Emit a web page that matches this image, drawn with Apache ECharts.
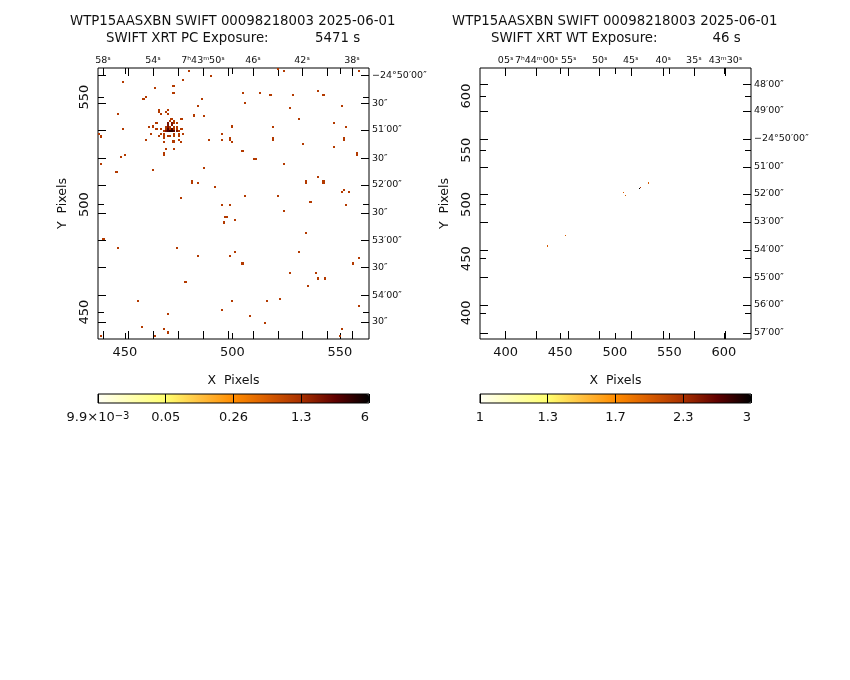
<!DOCTYPE html>
<html>
<head>
<meta charset="utf-8">
<title>WTP15AASXBN SWIFT XRT</title>
<style>
html, body { margin: 0; padding: 0; background: #fff; }
#main { width: 850px; height: 680px; }
</style>
<script src="https://cdn.jsdelivr.net/npm/echarts@6/dist/echarts.min.js"></script>
</head>
<body>
<div id="main"></div>
<script>
// PC image: detector cells grouped by counts per cell
const pcOnes = [
  [480,562],[490,560],[477,558],[449,557],[472.25,555],[472.75,555],[464,554],[472.25,552],[472.75,552],[460,550],[458.25,549],[458.75,549],
  [486,549],[484,546],[466,543.75],[466,543.25],[470,544],[469,543],[467,542],[470,542],[447,542],[482,541.75],[482,541.25],[487,541],
  [471.25,540],[471.75,540],[476.25,540],[476.75,540],[471,539],[473,539],[474,538],[463,536.75],[463,536.25],[464.25,538],[464.75,538],[500,536.75],
  [500,536.25],[461,536],[449,535],[464.25,535],[464.75,535],[467,535],[476.25,535],[476.75,535],[477,533],[462,533],[495,533],[466,532],
  [470,532],[471,532],[475,533],[475,532],[473,533],[473,532],[468,533],[468,532],[468,531],[438,533],[439,531.25],[439,531.75],
  [499,530.75],[499,530.25],[460,530],[489,530],[495,530],[475,530],[476,529],[468,529],[472.25,529.75],[472.75,529.75],[472.25,529.25],[472.75,529.25],
  [500,529],[469,526],[473,526],[468,523.75],[468,523.25],[450,523],[448,522],[469,536],[471,536],[473,536],[474,536],[469,535],
  [471,535],[473,535],[474,535],[468,534],[475,534],[467,533],[473,538],
  [521,563],[524,562],[559,562],[540,553],[505,552],[513,552],[517.25,551],[517.75,551],[528,551],[542.25,551],[542.75,551],[506,547],
  [527,545],[551,546],[531,540],[547,538],[519,536],[553,536],[519,530.75],[519,530.25],[552,530.75],[552,530.25],[533,528],[547,527],
  [504.25,525],[504.75,525],[558,523.75],[558,523.25],[510.25,521],[510.75,521],
  [439,519],[445.75,515],[446.25,515],[463,516],[487,517],[481,510.75],[481,510.25],[484,510],[492,508],[476,503],[495,500],[499,500],
  [496.75,494],[497.25,494],[496,491.75],[496,491.25],[501,493],[439.75,484],[440.25,484],[447,480],[474,480],[501,478],
  [524,519],[540,513],[534,510.75],[534,510.25],[542.25,510.75],[542.75,510.75],[542.25,510.25],[542.75,510.25],[552,507],[551,506],[554,506],[506,504],
  [521,504],[536.25,501],[536.75,501],[553,500],[524,497],[534,487],[531,478],
  [484,476],[499,476],[477.75,464],[478.25,464],[456,455],[500,455],[495,451],[470,449],[458,443],[468,442],[470,440.75],[470,440.25],
  [464,439],[439,439],[559,475],[556,472.75],[556,472.25],[504.25,472.75],[504.75,472.75],[504.25,472.25],[504.75,472.25],[527,468],[539,468],[540,465.75],
  [540,465.25],[543,465.75],[543,465.25],[535,462],[522,456],[516,455],[559,453],[508,448],[515,445],[551,442],[550,439]
];
const pcTwos = [[470,538],[472,538],[470,537],[472,537],[470,536],[469,534],[474,534]];
const pcThrees = [[470,535],[472,535],[470,534],[473,534]];
const pcFours = [[471,534],[472,534]];

// WT image: [x, y, counts]
const wtCells = [[531,520,2],[531,519,2],[524,516,2.3],[523,515,3],[508,511,2],[510,508,2],[455,471,2],[438,462,2],[438,461,2]];

// tick positions in image pixels, WCS ticks
const pcRange = [437.5, 563.5];
const pcXTicks = [450, 500, 550];
const pcYTicks = [450, 500, 550];
const pcRaTicks = [439.8, 451.4, 463.1, 474.7, 486.3, 498, 509.6, 521.2, 532.4, 544, 555.6];
const pcRaLabels = ['58ˢ', '', '54ˢ', '', '7ʰ43ᵐ50ˢ', '', '46ˢ', '', '42ˢ', '', '38ˢ'];
const pcDecTicks = [560.2, 547.2, 534.7, 521.6, 509.1, 496.1, 483.5, 470.9, 457.9, 445.4];
const pcDecLabels = ['−24°50′00″', '30″', '51′00″', '30″', '52′00″', '30″', '53′00″', '30″', '54′00″', '30″'];

const wtXRange = [376.5, 624.8];
const wtYRange = [376, 625.8];
const wtXTicks = [400, 450, 500, 550, 600];
const wtYTicks = [400, 450, 500, 550, 600];
const wtRaTicks = [400, 428.4, 457.8, 486.2, 514.7, 544.4, 572.5, 601.5];
const wtRaLabels = ['05ˢ', '7ʰ44ᵐ00ˢ', '55ˢ', '50ˢ', '45ˢ', '40ˢ', '35ˢ', '43ᵐ30ˢ'];
const wtDecTicks = [610.7, 586.2, 560.4, 534.6, 509.7, 483.9, 458.1, 432.8, 407.4, 381.6];
const wtDecLabels = ['48′00″', '49′00″', '−24°50′00″', '51′00″', '52′00″', '53′00″', '54′00″', '55′00″', '56′00″', '57′00″'];

// colour bars, ticks sit at even log steps, the printed labels are rounded
const pcBarTicks = [0.0099, 0.0491, 0.2437, 1.21, 6];
const pcBarLabels = ['9.9×10{e|−3}', '0.05', '0.26', '1.3', '6'];
const wtBarTicks = [1, 1.316, 1.732, 2.28, 3];
const wtBarLabels = ['1', '1.3', '1.7', '2.3', '3'];
const rampColors = ['#fffff4', '#ffffb0', '#ffff70', '#ffc040', '#ff8c00', '#d85c00', '#a83000', '#600000', '#000000'];

const FONT = 'DejaVu Sans';
const INK = '#111';

const pcData = [];
[[pcOnes, 1], [pcTwos, 2], [pcThrees, 3], [pcFours, 4]].forEach(function (group) {
  group[0].forEach(function (c) { pcData.push([c[0], c[1], Math.log10(group[1])]); });
});
const wtData = wtCells.map(function (c) { return [c[0], c[1], Math.log10(c[2])]; });

// one rect per image cell, size comes from the axis scale
function renderCell(params, api) {
  const c = api.coord([api.value(0), api.value(1)]);
  const s = api.size([1, 1]);
  const w = Math.max(1, Math.floor(s[0]));
  const h = Math.max(1, Math.floor(s[1]));
  return {
    type: 'rect',
    shape: { x: Math.round(c[0] - w / 2), y: Math.round(c[1] - h / 2), width: w, height: h },
    style: { fill: api.visual('color') }
  };
}

function lookup(ticks, labels) {
  return function (v) {
    const i = ticks.findIndex(function (t) { return Math.abs(t - v) < 1e-6; });
    return i < 0 ? '' : labels[i];
  };
}

function tickAxis(gridIndex, range, position, values, len, label) {
  const axis = {
    type: 'value', gridIndex: gridIndex, position: position, min: range[0], max: range[1],
    axisLine: { show: false }, splitLine: { show: false },
    axisTick: { show: true, inside: true, length: len, customValues: values, lineStyle: { color: '#000', width: 1 } },
    axisLabel: { show: false }
  };
  if (label) {
    axis.axisLabel = Object.assign({
      show: true, customValues: values, hideOverlap: false, color: INK, fontFamily: FONT
    }, label);
  }
  return axis;
}

const nameStyle = { color: INK, fontFamily: FONT, fontSize: 12.5 };

function xAxesFor(g, range, pix, wcs, wcsLabels) {
  const bottom = tickAxis(g, range, 'bottom', pix, 6, { fontSize: 13, margin: 7 });
  bottom.name = 'X  Pixels';
  bottom.nameLocation = 'middle';
  bottom.nameGap = 35;
  bottom.nameTextStyle = nameStyle;
  return [
    bottom,
    tickAxis(g, range, 'top', wcs, 8, { fontSize: 9.5, margin: 2, formatter: lookup(wcs, wcsLabels) }),
    tickAxis(g, range, 'bottom', wcs, 8),
    tickAxis(g, range, 'top', pix, 6)
  ];
}

function yAxesFor(g, range, pix, wcs, wcsLabels) {
  const left = tickAxis(g, range, 'left', pix, 6, { fontSize: 13, margin: 7, rotate: 90 });
  left.name = 'Y  Pixels';
  left.nameLocation = 'middle';
  left.nameRotate = 90;
  left.nameGap = 29;
  left.nameTextStyle = nameStyle;
  return [
    left,
    tickAxis(g, range, 'right', wcs, 8, { fontSize: 9.5, margin: 3, formatter: lookup(wcs, wcsLabels) }),
    tickAxis(g, range, 'left', wcs, 8),
    tickAxis(g, range, 'right', pix, 6)
  ];
}

function barAxis(g, ticks, labels) {
  return {
    type: 'log', logBase: 10, gridIndex: g, position: 'bottom', min: ticks[0], max: ticks[ticks.length - 1],
    z: 10,
    axisLine: { show: false }, splitLine: { show: false }, minorTick: { show: false },
    axisTick: { show: true, inside: true, length: 9, customValues: ticks, lineStyle: { color: '#000', width: 1 } },
    axisLabel: {
      show: true, customValues: ticks, hideOverlap: false, margin: 8, color: INK, fontFamily: FONT, fontSize: 13,
      alignMaxLabel: 'right', formatter: lookup(ticks, labels),
      rich: { e: { fontFamily: FONT, fontSize: 10, color: INK, padding: [0, 0, 3, 0] } }
    }
  };
}

function title(text, left, top) {
  return { text: text, left: left, top: top, padding: 0, textStyle: { color: INK, fontFamily: FONT, fontSize: 13.3, fontWeight: 'normal' } };
}

function colorBar(seriesIndex, left, ticks) {
  return {
    type: 'continuous', seriesIndex: seriesIndex, dimension: 2, orient: 'horizontal', left: left, top: 394, padding: 0,
    itemWidth: 9, itemHeight: 271, calculable: false, showLabel: false, hoverLink: false, text: null,
    min: Math.log10(ticks[0]), max: Math.log10(ticks[ticks.length - 1]),
    inRange: { color: rampColors }
  };
}

const frame = { show: true, borderColor: '#000', borderWidth: 1, backgroundColor: 'transparent', width: 271, height: 271, top: 68 };
const barFrame = { show: true, borderColor: '#000', borderWidth: 1, backgroundColor: 'transparent', width: 271, height: 9, top: 394, z: 10 };

const myChart = echarts.init(document.getElementById('main'), null, { renderer: 'canvas' });

myChart.setOption({
  animation: false,
  backgroundColor: '#fff',
  title: [
    title('WTP15AASXBN SWIFT 00098218003 2025-06-01', 70, 15),
    title('SWIFT XRT PC Exposure:           5471 s', 106, 32),
    title('WTP15AASXBN SWIFT 00098218003 2025-06-01', 452, 15),
    title('SWIFT XRT WT Exposure:             46 s', 491, 32)
  ],
  grid: [
    Object.assign({ left: 98 }, frame),
    Object.assign({ left: 480 }, frame),
    Object.assign({ left: 98 }, barFrame),
    Object.assign({ left: 480 }, barFrame)
  ],
  xAxis: [].concat(
    xAxesFor(0, pcRange, pcXTicks, pcRaTicks, pcRaLabels),
    xAxesFor(1, wtXRange, wtXTicks, wtRaTicks, wtRaLabels),
    [barAxis(2, pcBarTicks, pcBarLabels), barAxis(3, wtBarTicks, wtBarLabels)]
  ),
  yAxis: [].concat(
    yAxesFor(0, pcRange, pcYTicks, pcDecTicks, pcDecLabels),
    yAxesFor(1, wtYRange, wtYTicks, wtDecTicks, wtDecLabels),
    [
      { type: 'value', gridIndex: 2, show: false, min: 0, max: 1 },
      { type: 'value', gridIndex: 3, show: false, min: 0, max: 1 }
    ]
  ),
  visualMap: [colorBar(0, 98, pcBarTicks), colorBar(1, 480, wtBarTicks)],
  series: [
    { type: 'custom', name: 'PC', xAxisIndex: 0, yAxisIndex: 0, renderItem: renderCell, data: pcData, encode: { x: 0, y: 1 } },
    { type: 'custom', name: 'WT', xAxisIndex: 4, yAxisIndex: 4, renderItem: renderCell, data: wtData, encode: { x: 0, y: 1 } }
  ]
});
</script>
</body>
</html>
